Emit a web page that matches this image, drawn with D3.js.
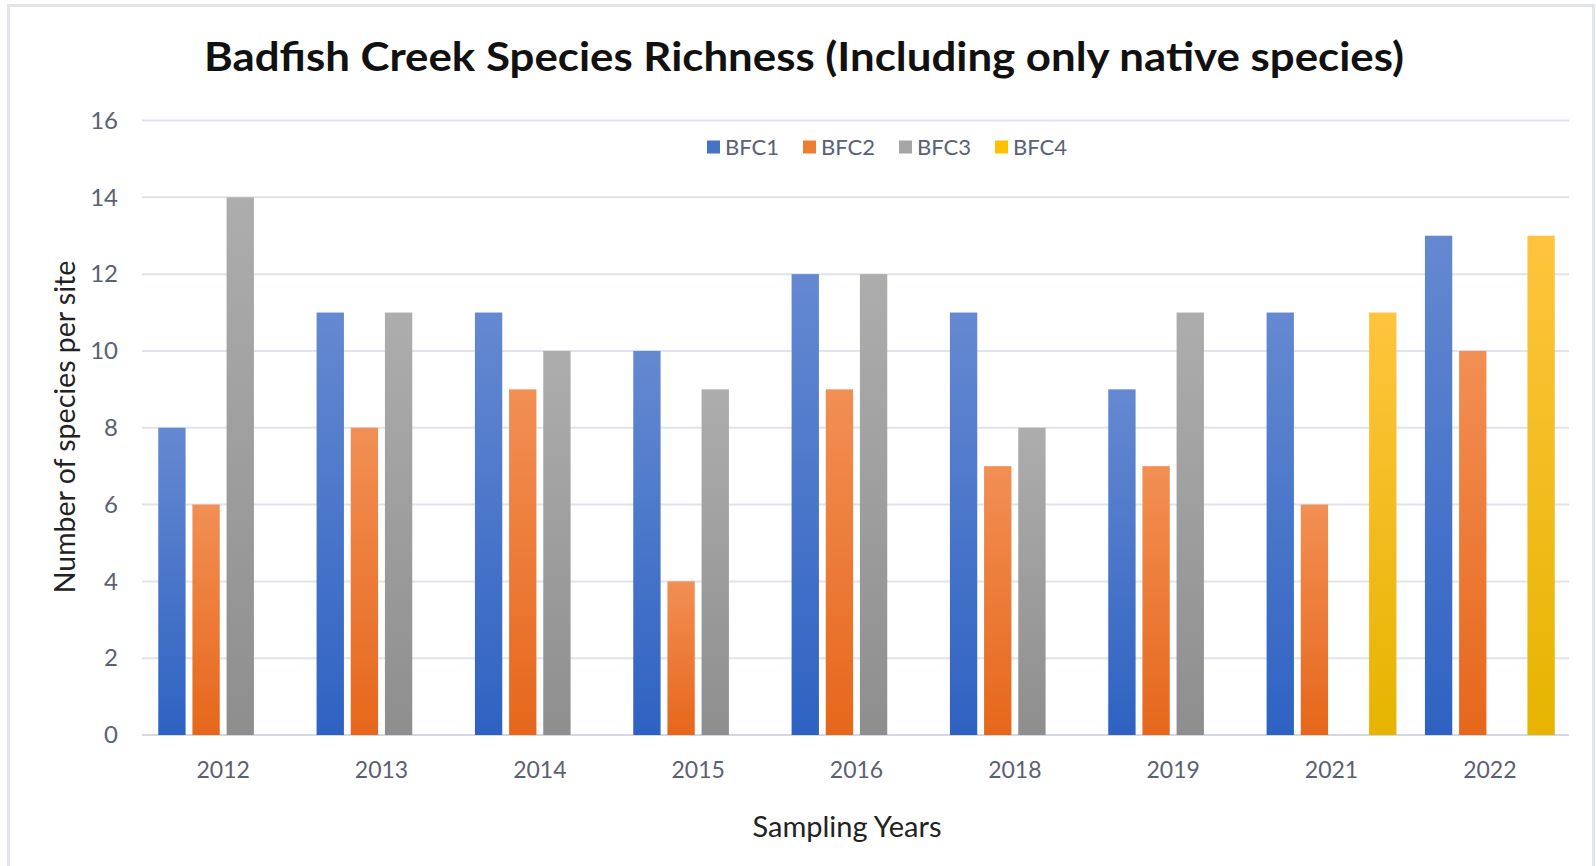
<!DOCTYPE html>
<html>
<head>
<meta charset="utf-8">
<script src="https://cdn.jsdelivr.net/npm/d3@7"></script>
<style>
  body { margin: 0; background: #fff; }
  text { font-family: Lato, "Open Sans", sans-serif; }
</style>
</head>
<body>
<div id="app"></div>
<script>
"use strict";

// data
const years = ["2012", "2013", "2014", "2015", "2016", "2018", "2019", "2021", "2022"];
const seriesNames = ["BFC1", "BFC2", "BFC3", "BFC4"];
const bfc1 = [8, 11, 11, 10, 12, 11, 9, 11, 13];
const bfc2 = [6, 8, 9, 4, 9, 7, 7, 6, 10];
const bfc3 = [14, 11, 10, 9, 12, 8, 11, null, null];
const bfc4 = [null, null, null, null, null, null, null, 11, 13];
const yTicks = [0, 2, 4, 6, 8, 10, 12, 14, 16];

const seriesValues = [bfc1, bfc2, bfc3, bfc4];
const colors = {
  BFC1: { top: "#6589d1", bottom: "#2e62c2", key: "#4472c4" },
  BFC2: { top: "#f28f54", bottom: "#e6671b", key: "#ed7d31" },
  BFC3: { top: "#adadad", bottom: "#8e8e8e", key: "#a5a5a5" },
  BFC4: { top: "#ffc43d", bottom: "#e6b400", key: "#ffc000" }
};

const width = 1596;
const height = 866;
const plot = { left: 144, right: 1569, top: 120.5, bottom: 735 };

const svg = d3.select("#app")
  .append("svg")
  .attr("width", width)
  .attr("height", height);

svg.append("rect")
  .attr("x", 8.5).attr("y", 5.5)
  .attr("width", 1585).attr("height", 880)
  .attr("fill", "#fff")
  .attr("stroke", "#e2e5ec")
  .attr("stroke-width", 3);

const defs = svg.append("defs");
for (const name of seriesNames) {
  const grad = defs.append("linearGradient")
    .attr("id", "grad_" + name)
    .attr("x1", 0).attr("y1", 0).attr("x2", 0).attr("y2", 1);
  grad.append("stop").attr("offset", "0%").attr("stop-color", colors[name].top);
  grad.append("stop").attr("offset", "100%").attr("stop-color", colors[name].bottom);
}

const x0 = d3.scaleBand()
  .domain(years)
  .range([plot.left, plot.right])
  .paddingInner(0.18)
  .paddingOuter(0.09);

const x1 = d3.scaleBand()
  .domain(seriesNames)
  .range([0, x0.bandwidth()])
  .paddingInner(0.2);

const y = d3.scaleLinear()
  .domain([0, 16])
  .range([plot.bottom, plot.top]);

// gridlines
svg.append("g")
  .selectAll("line")
  .data(yTicks)
  .join("line")
  .attr("x1", plot.left - 2)
  .attr("x2", plot.right)
  .attr("y1", d => y(d))
  .attr("y2", d => y(d))
  .attr("stroke", d => d === 0 ? "#d3d8e1" : "#dfe3ea")
  .attr("stroke-width", 2);

// y axis labels
const yAxis = svg.append("g")
  .attr("transform", `translate(${plot.left - 26},0)`)
  .call(d3.axisLeft(y).tickValues(yTicks).tickSize(0).tickPadding(0));
yAxis.select(".domain").remove();
yAxis.selectAll("text")
  .attr("font-family", "Lato, sans-serif")
  .attr("font-size", 24)
  .attr("fill", "#5a6172");

// x axis labels
const xAxis = svg.append("g")
  .attr("transform", `translate(0,${plot.bottom})`)
  .call(d3.axisBottom(x0).tickSize(0).tickPadding(27));
xAxis.select(".domain").remove();
xAxis.selectAll("text")
  .attr("font-family", "Lato, sans-serif")
  .attr("font-size", 23)
  .attr("fill", "#5a6172");

// bars
const groups = svg.append("g")
  .selectAll("g")
  .data(years)
  .join("g")
  .attr("transform", d => `translate(${x0(d)},0)`);

groups.selectAll("rect")
  .data((d, i) => seriesNames
    .map((name, s) => ({ name: name, value: seriesValues[s][i] }))
    .filter(v => v.value !== null))
  .join("rect")
  .attr("x", d => x1(d.name))
  .attr("width", x1.bandwidth())
  .attr("y", d => y(d.value))
  .attr("height", d => y(0) - y(d.value))
  .attr("fill", d => `url(#grad_${d.name})`);

// legend
const legendX = [707, 803, 899, 995];
const legend = svg.append("g");
seriesNames.forEach((name, i) => {
  const g = legend.append("g").attr("transform", `translate(${legendX[i]},147)`);
  g.append("rect")
    .attr("x", 0).attr("y", -6.5)
    .attr("width", 13).attr("height", 13)
    .attr("fill", colors[name].key);
  g.append("text")
    .attr("x", 18).attr("y", 8)
    .attr("font-size", 22)
    .attr("fill", "#5a6172")
    .text(name);
});

// title
svg.append("text")
  .attr("x", 804).attr("y", 71)
  .attr("text-anchor", "middle")
  .attr("font-size", 40)
  .attr("font-weight", "bold")
  .attr("fill", "#111")
  .attr("textLength", 1200)
  .attr("lengthAdjust", "spacingAndGlyphs")
  .text("Badfish Creek Species Richness (Including only native species)");

// axis titles
svg.append("text")
  .attr("transform", "translate(75,427) rotate(-90)")
  .attr("text-anchor", "middle")
  .attr("font-size", 28.5)
  .attr("fill", "#222")
  .text("Number of species per site");

svg.append("text")
  .attr("x", 847).attr("y", 837)
  .attr("text-anchor", "middle")
  .attr("font-size", 29)
  .attr("fill", "#222")
  .text("Sampling Years");
</script>
</body>
</html>
